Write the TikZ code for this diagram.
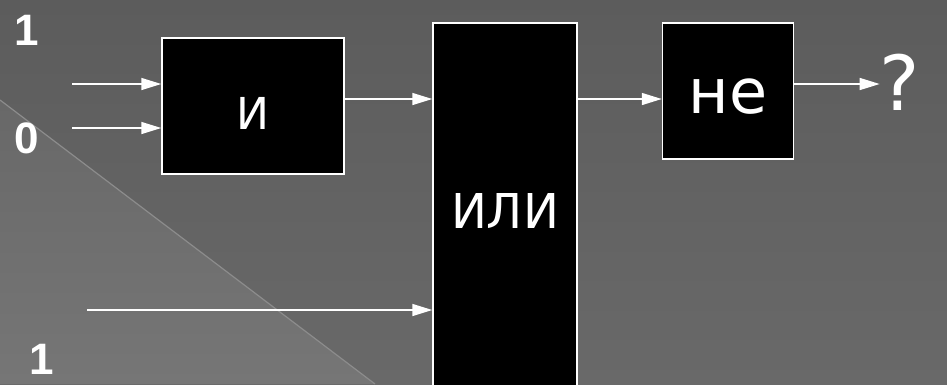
\documentclass[tikz,border=0pt]{standalone}
\usepackage{fontspec}
\setmainfont{DejaVu Sans}
\newfontfamily\digitfont{Liberation Sans}
\usetikzlibrary{arrows.meta}

\definecolor{bgtop}{RGB}{92,92,92}
\definecolor{bgbot}{RGB}{105,105,105}
\definecolor{tritop}{RGB}{104,104,104}
\definecolor{tribot}{RGB}{118,118,118}
\definecolor{diag}{RGB}{140,140,140}

\tikzset{wire/.style={draw=white,line width=1.5pt,-{Triangle[length=20pt,width=12pt]}}}

\begin{document}
\begin{tikzpicture}[x=1pt,y=-1pt,
  gate/.style={draw=white,line width=1.5pt,fill=black,inner sep=0pt},
  gatetext/.style={text=white,inner sep=0pt},
  bit/.style={text=white,font=\digitfont\bfseries\fontsize{44}{44}\selectfont}]

 \useasboundingbox (0,0) rectangle (947,384);
 \clip (0,0) rectangle (947,384);
 % background
 \shade[top color=bgtop,bottom color=bgbot] (0,0) rectangle (947,384);
 \shade[top color=tritop,bottom color=tribot] (0,100) -- (375,384) -- (0,384) -- cycle;
 \draw[diag,line width=1.2pt] (0,100) -- (375,384);

 % gates
 \node[gate,minimum width=182pt,minimum height=136pt] (and) at (253,106) {};
 \node[gate,minimum width=144pt,minimum height=374pt] (or) at (505,210) {};
 \node[gate,minimum width=131pt,minimum height=136pt] (not) at (728,91) {};
 \node[gatetext,font=\fontsize{44}{44}\selectfont] (andlbl) at (253,113) {И};
 \node[gatetext,font=\fontsize{48}{48}\selectfont] (orlbl) at (505,211) {ИЛИ};
 \node[gatetext,font=\fontsize{62}{62}\selectfont] (notlbl) at (728,97) {не};
 \node[gatetext,font=\fontsize{76}{76}\selectfont] (q) at (900,82) {?};

 % input values
 \node[bit] (b1) at (27,30) {1};
 \node[bit] (b2) at (27,138) {0};
 \node[bit] (b3) at (42,359) {1};

 % wires
 \coordinate (in1) at (72,84);
 \coordinate (in2) at (72,128);
 \coordinate (in3) at (87,310);
 \coordinate (mid) at (0,99);
 \draw[wire] (in1) -- (in1 -| and.west);
 \draw[wire] (in2) -- (in2 -| and.west);
 \draw[wire] (in3) -- (in3 -| or.west);
 \draw[wire] (mid -| and.east) -- (mid -| or.west);
 \draw[wire] (mid -| or.east) -- (mid -| not.west);
 \draw[wire] (not.east |- in1) -- (q.west |- in1);

\end{tikzpicture}
\end{document}
